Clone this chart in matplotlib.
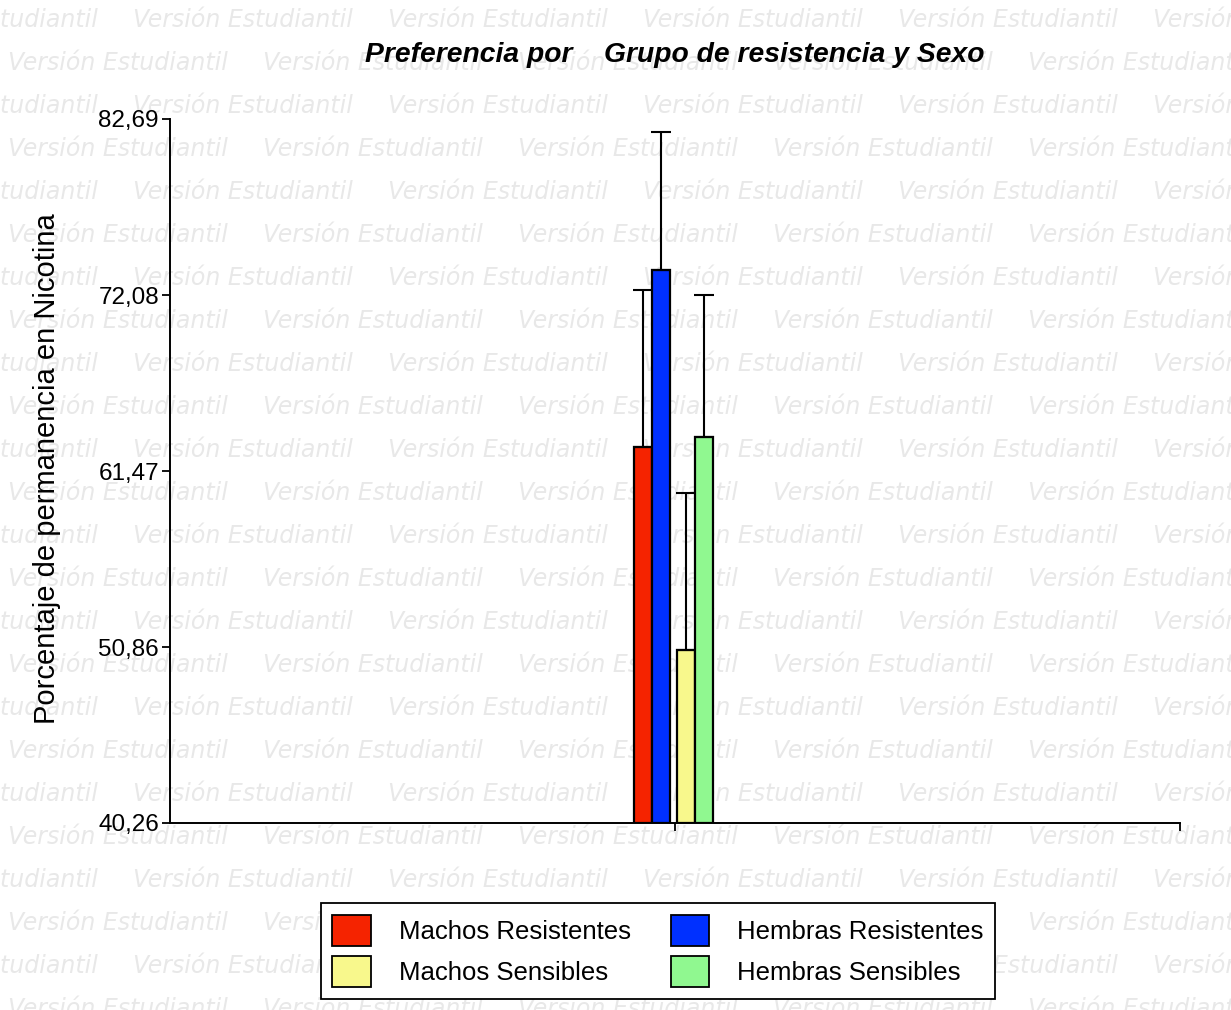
import numpy as np
import matplotlib.pyplot as plt
from matplotlib.patches import Patch

plt.rcParams['font.family'] = ['Liberation Sans', 'DejaVu Sans']

# medias y error (solo hacia arriba) por grupo
grupos = ["Machos Resistentes", "Hembras Resistentes", "Machos Sensibles", "Hembras Sensibles"]
medias = [62.92, 73.59, 50.69, 63.53]
errores = [9.47, 8.32, 9.46, 8.56]
colores = ["#f52300", "#0030ff", "#f8f88c", "#90f890"]
yticks = [40.26, 50.86, 61.47, 72.08, 82.69]
ytick_labels = ["40,26", "50,86", "61,47", "72,08", "82,69"]

fig = plt.figure(figsize=(12.31, 10.10), dpi=100)

# marca de agua de fondo
for i, yy in enumerate(np.arange(1010 - 20, -30, -43)):
    x0 = 133 - 255 if i % 2 == 0 else 8
    for xx in np.arange(x0, 1300, 255):
        fig.text(xx / 1231, yy / 1010, "Versión Estudiantil", fontsize=17, style='italic',
                 family='DejaVu Sans', color='#e8e8e8', ha='left', va='center', zorder=-5)

ax = fig.add_axes([170 / 1231, 1 - 823 / 1010, 1010 / 1231, 704 / 1010])
ax.set_zorder(2)
ax.patch.set_alpha(0)

w = 0.0178
pos = [-0.0317, -0.0139, 0.0109, 0.0287]
for p, m, e, c in zip(pos, medias, errores, colores):
    ax.bar(p, m - yticks[0], bottom=yticks[0], width=w, color=c, edgecolor='black',
           linewidth=1.6, zorder=3)
    ax.errorbar(p, m, yerr=[[0], [e]], fmt='none', ecolor='black', elinewidth=1.5,
                capsize=7.5, capthick=1.5, zorder=4)

ax.set_xlim(-0.5, 0.5)
ax.set_ylim(yticks[0], yticks[-1])
ax.set_yticks(yticks)
ax.set_yticklabels(ytick_labels, fontsize=17.5)
ax.set_xticks([0, 0.5])
ax.set_xticklabels([])
ax.tick_params(axis='both', direction='out', length=6, width=1.3, colors='black', pad=2)
ax.spines['top'].set_visible(False)
ax.spines['right'].set_visible(False)
ax.spines['left'].set_linewidth(1.4)
ax.spines['bottom'].set_linewidth(1.4)

fig.text(47 / 1231, 1 - 469 / 1010, "Porcentaje de permanencia en Nicotina",
         fontsize=21, rotation=90, ha='center', va='center')
fig.text(675 / 1231, 1 - 55 / 1010, "Preferencia por    Grupo de resistencia y Sexo",
         fontsize=20.3, fontweight='bold', style='italic', ha='center', va='center')

handles = [Patch(facecolor=c, edgecolor='black', linewidth=1.3) for c in colores]
order = [0, 2, 1, 3]
leg = fig.legend([handles[i] for i in order], [grupos[i] for i in order], ncol=2,
                 loc='center', bbox_to_anchor=(658 / 1231, 1 - 951 / 1010),
                 fontsize=18.5, frameon=True, fancybox=False, edgecolor='black',
                 handlelength=1.48, handleheight=1.48, columnspacing=1.56,
                 handletextpad=1.1, borderpad=0.45, labelspacing=0.39, framealpha=1)
leg.get_frame().set_linewidth(1.3)
leg.set_zorder(3)

fig.savefig("out.png", dpi=100)
